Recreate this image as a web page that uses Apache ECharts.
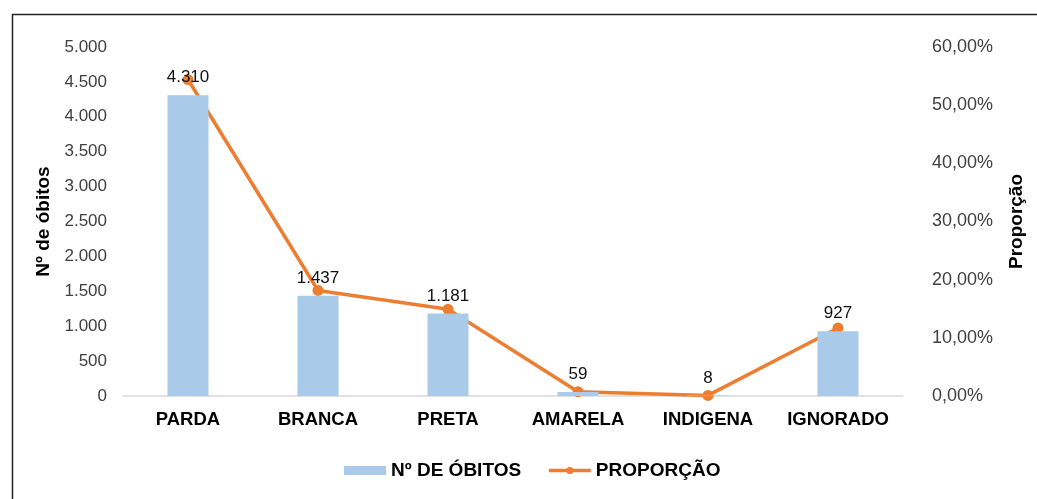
<!DOCTYPE html>
<html><head><meta charset="utf-8">
<script src="https://cdn.jsdelivr.net/npm/echarts@6/dist/echarts.min.js"></script>
<style>html,body{margin:0;padding:0;background:#fff}#c{width:1037px;height:499px}</style>
</head><body><div id="c"></div>
<script>
const categories = ['PARDA','BRANCA','PRETA','AMARELA','INDIGENA','IGNORADO'];
const obitos = [4310, 1437, 1181, 59, 8, 927];
const proporcao = [54.41, 18.14, 14.91, 0.74, 0.10, 11.70];
const leftTicks = [0, 500, 1000, 1500, 2000, 2500, 3000, 3500, 4000, 4500, 5000];
const rightTicks = [0, 10, 20, 30, 40, 50, 60];

function fmtThousands(v){ return String(v).replace(/\B(?=(\d{3})+(?!\d))/g, '.'); }
function fmtPct(v){ return v.toFixed(2).replace('.', ',') + '%'; }

const chart = echarts.init(document.getElementById('c'));
chart.setOption({
  animation: false,
  backgroundColor: '#fff',
  textStyle: { fontFamily: 'Liberation Sans, Arial, sans-serif' },
  graphic: [{ type: 'rect', left: 10, top: 12, shape: { width: 1100, height: 600 }, style: { fill: 'none', stroke: '#222', lineWidth: 1.5 }, silent: true }],
  grid: { left: 123, right: 134, top: 47, bottom: 103 },
  legend: {
    top: 456, left: 339, itemGap: 26, itemWidth: 42, itemHeight: 9,
    textStyle: { fontSize: 19, fontWeight: 'bold', color: '#000', padding: [0, 0, 0, 0] },
    data: [
      { name: 'Nº DE ÓBITOS', icon: 'rect' },
      { name: 'PROPORÇÃO', lineStyle: { width: 3.5, color: '#ED7D31' }, itemStyle: { color: '#ED7D31' } }
    ]
  },
  xAxis: {
    type: 'category', data: categories,
    axisLine: { lineStyle: { color: '#D9D9D9', width: 1.5 } },
    axisTick: { show: false },
    axisLabel: { fontSize: 18.5, fontWeight: 'bold', color: '#000', margin: 14, interval: 0, hideOverlap: false }
  },
  yAxis: [{
    type: 'value', min: 0, max: 5000, interval: 500,
    name: 'Nº de óbitos', nameLocation: 'middle', nameGap: 69, nameRotate: 90,
    nameTextStyle: { fontSize: 19, fontWeight: 'bold', color: '#000' },
    axisLine: { show: false }, axisTick: { show: false }, splitLine: { show: false },
    axisLabel: { fontSize: 17, color: '#404040', margin: 16, formatter: v => fmtThousands(v) }
  }, {
    type: 'value', min: 0, max: 60, interval: 10,
    name: 'Proporção', nameLocation: 'middle', nameGap: 104, nameRotate: 90,
    nameTextStyle: { fontSize: 19, fontWeight: 'bold', color: '#000' },
    axisLine: { show: false }, axisTick: { show: false }, splitLine: { show: false },
    axisLabel: { fontSize: 18, color: '#404040', margin: 29, formatter: v => fmtPct(v) }
  }],
  series: [{
    name: 'Nº DE ÓBITOS', type: 'bar', data: obitos, barWidth: 41,
    itemStyle: { color: '#A9CAE9' },
    label: { show: true, position: 'top', distance: 9, fontSize: 17, color: '#111', formatter: p => fmtThousands(p.value) },
    z: 2
  }, {
    name: 'PROPORÇÃO', type: 'line', yAxisIndex: 1, data: proporcao,
    symbol: 'circle', symbolSize: 11,
    lineStyle: { color: '#ED7D31', width: 3.5 },
    itemStyle: { color: '#ED7D31' },
    z: 1
  }]
});
</script></body></html>
